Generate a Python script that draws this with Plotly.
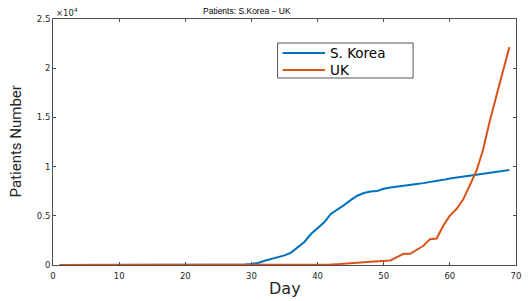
import plotly.graph_objects as go

days = list(range(1, 70))

korea = [1, 1, 2, 2, 3, 4, 4, 4, 6, 11, 12, 15, 15, 16, 18, 23, 24, 24, 25, 27,
         28, 28, 28, 28, 28, 29, 30, 31, 46, 104, 204, 433, 602, 833, 977, 1261,
         1766, 2337, 3150, 3736, 4335, 5186, 5621, 6088, 6593, 7041, 7314, 7478,
         7513, 7755, 7869, 7979, 8086, 8162, 8236, 8320, 8413, 8565, 8652, 8799,
         8897, 8961, 9037, 9137, 9241, 9332, 9478, 9583, 9661]

uk = [0, 0, 0, 0, 0, 0, 0, 0, 0, 2, 2, 2, 2, 2, 2, 3, 3, 3, 3, 8,
      8, 9, 9, 9, 9, 9, 9, 9, 9, 9, 9, 9, 9, 13, 13, 13, 15, 20, 23, 36,
      40, 51, 85, 115, 163, 206, 273, 321, 382, 456, 456, 798, 1140, 1140, 1543, 1950,
      2626, 2689, 3983, 5018, 5683, 6650, 8077, 9529, 11658, 14543, 17089, 19522, 22141]

series_names = ["S. Korea", "UK"]
series_colors = ["#0072BD", "#D95319"]

x_ticks = [0, 10, 20, 30, 40, 50, 60, 70]
y_ticks = [0, 5000, 10000, 15000, 20000, 25000]
y_tick_labels = ["0", "0.5", "1", "1.5", "2", "2.5"]

# plot area in page pixels
L, R, T, B = 53, 521, 19, 265
W, H = 528, 301


def px(x):
    return (x - L) / (R - L)


def py(y):
    return (B - y) / (B - T)


fig = go.Figure()
for name, vals, col in zip(series_names, [korea, uk], series_colors):
    fig.add_trace(go.Scatter(x=days, y=vals, mode="lines", name=name,
                             line=dict(color=col, width=2)))

axis_common = dict(showgrid=False, zeroline=False, showline=True, mirror="ticks",
                   linecolor="#4d4d4d", linewidth=1, ticks="inside", ticklen=3,
                   tickcolor="#4d4d4d",
                   tickfont=dict(family="DejaVu Sans", size=8.5, color="#262626"))

shapes = [dict(type="rect", xref="paper", yref="paper",
               x0=px(280), x1=px(417), y0=py(78), y1=py(43),
               line=dict(color="#555555", width=1), fillcolor="white", layer="above")]
annotations = []
for i, (name, col) in enumerate(zip(series_names, series_colors)):
    yy = 53 + i * 17
    shapes.append(dict(type="line", xref="paper", yref="paper",
                       x0=px(285), x1=px(328), y0=py(yy), y1=py(yy),
                       line=dict(color=col, width=2), layer="above"))
    annotations.append(dict(text=name, xref="paper", yref="paper",
                            x=px(331), y=py(yy), xanchor="left", yanchor="middle",
                            showarrow=False,
                            font=dict(family="DejaVu Sans", size=13.5, color="#000000")))

annotations += [
    dict(text="Patients: S.Korea − UK", xref="paper", yref="paper",
         x=px(249), y=py(11), xanchor="center", yanchor="middle",
         showarrow=False, font=dict(family="Liberation Sans, Arial", size=8.5, color="#000000")),
    dict(text="×10<sup>4</sup>", xref="paper", yref="paper",
         x=px(54), y=py(12), xanchor="left", yanchor="middle",
         showarrow=False, font=dict(family="DejaVu Sans", size=8.5, color="#262626")),
    dict(text="Patients Number", xref="paper", yref="paper",
         x=px(16), y=py(141), xanchor="center", yanchor="middle", textangle=-90,
         showarrow=False, font=dict(family="Roboto", size=15, color="#262626")),
    dict(text="Day", xref="paper", yref="paper",
         x=px(287), y=py(288), xanchor="center", yanchor="middle",
         showarrow=False, font=dict(family="DejaVu Sans", size=16, color="#262626")),
]

fig.update_layout(
    width=W, height=H,
    margin=dict(l=L, r=W - R, t=T, b=H - B),
    paper_bgcolor="white", plot_bgcolor="white",
    xaxis=dict(range=[0, 70], tickvals=x_ticks, ticklabelstandoff=3, **axis_common),
    yaxis=dict(range=[0, 25000], tickvals=y_ticks, ticktext=y_tick_labels, **axis_common),
    showlegend=False,
    shapes=shapes,
    annotations=annotations,
)

fig.write_html("out.html", config={"displayModeBar": False},
               post_script="document.body.style.margin='0px';")
